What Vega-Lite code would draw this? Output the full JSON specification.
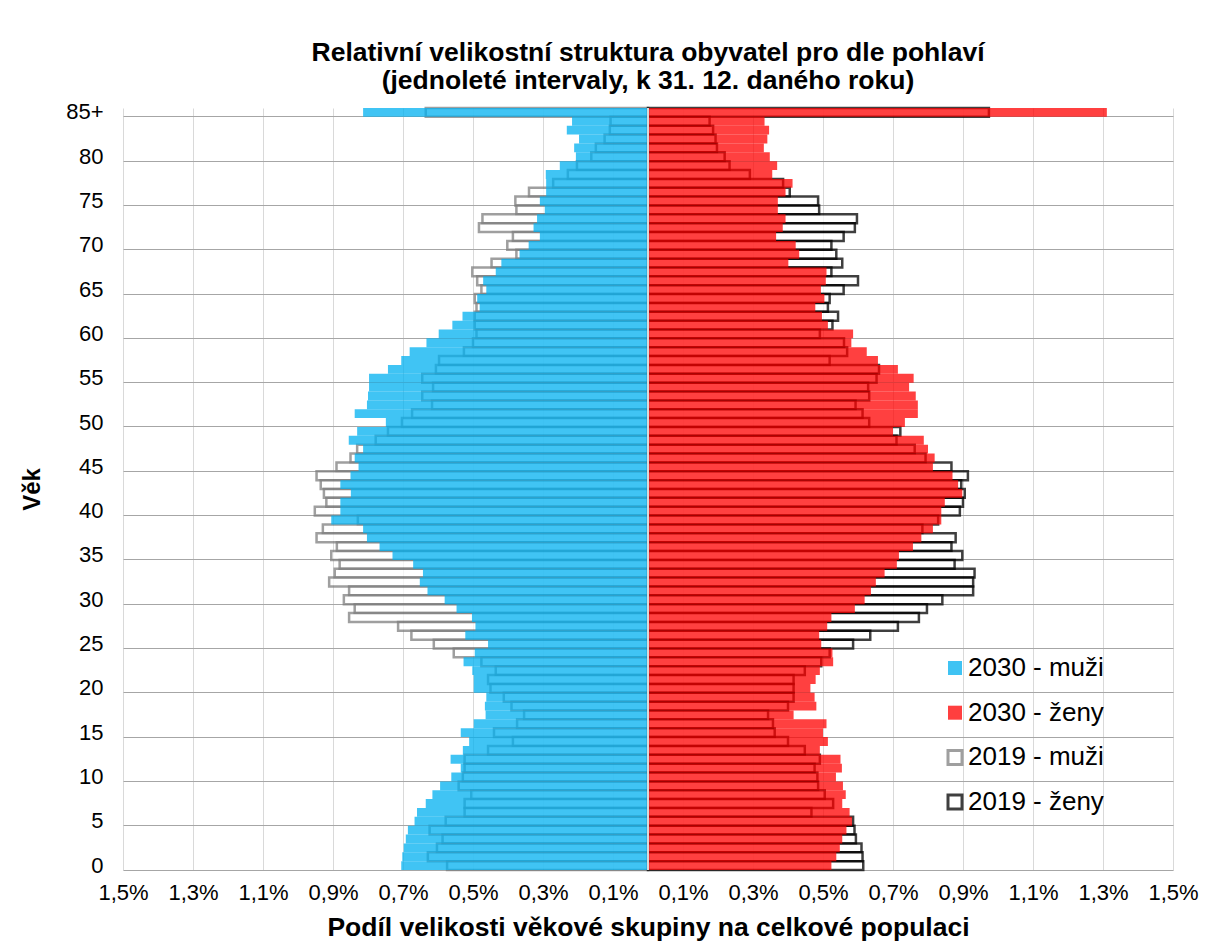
{
  "$schema": "https://vega.github.io/schema/vega-lite/v6.json",
  "width": 1050,
  "height": 762,
  "autosize": {"type": "none"},
  "padding": {"left": 123, "top": 108, "right": 35, "bottom": 74},
  "background": "white",
  "title": {
    "text": ["Relativní velikostní struktura obyvatel pro dle pohlaví", "(jednoleté intervaly, k 31. 12. daného roku)"],
    "fontSize": 26.5, "fontWeight": "bold", "font": "Liberation Sans", "color": "#000000",
    "anchor": "middle", "frame": "group", "offset": 6, "lineHeight": 28
  },
  "data": {"values": [
    {"age":85,"2030 - muži":-0.814,"2030 - ženy":1.311,"2019 - muži":-0.635,"2019 - ženy":0.974},
    {"age":84,"2030 - muži":-0.217,"2030 - ženy":0.333,"2019 - muži":-0.107,"2019 - ženy":0.176},
    {"age":83,"2030 - muži":-0.232,"2030 - ženy":0.346,"2019 - muži":-0.109,"2019 - ženy":0.186},
    {"age":82,"2030 - muži":-0.197,"2030 - ženy":0.341,"2019 - muži":-0.124,"2019 - ženy":0.193},
    {"age":81,"2030 - muži":-0.211,"2030 - ženy":0.331,"2019 - muži":-0.149,"2019 - ženy":0.197},
    {"age":80,"2030 - muži":-0.206,"2030 - ženy":0.348,"2019 - muži":-0.162,"2019 - ženy":0.219},
    {"age":79,"2030 - muži":-0.252,"2030 - ženy":0.369,"2019 - muži":-0.203,"2019 - ženy":0.233},
    {"age":78,"2030 - muži":-0.292,"2030 - ženy":0.355,"2019 - muži":-0.229,"2019 - ženy":0.291},
    {"age":77,"2030 - muži":-0.291,"2030 - ženy":0.413,"2019 - muži":-0.271,"2019 - ženy":0.386},
    {"age":76,"2030 - muži":-0.291,"2030 - ženy":0.393,"2019 - muži":-0.340,"2019 - ženy":0.405},
    {"age":75,"2030 - muži":-0.309,"2030 - ženy":0.371,"2019 - muži":-0.379,"2019 - ženy":0.486},
    {"age":74,"2030 - muži":-0.295,"2030 - ženy":0.371,"2019 - muži":-0.376,"2019 - ženy":0.489},
    {"age":73,"2030 - muži":-0.317,"2030 - ženy":0.393,"2019 - muži":-0.473,"2019 - ženy":0.597},
    {"age":72,"2030 - muži":-0.327,"2030 - ženy":0.385,"2019 - muži":-0.483,"2019 - ženy":0.591},
    {"age":71,"2030 - muži":-0.309,"2030 - ženy":0.366,"2019 - muži":-0.386,"2019 - ženy":0.559},
    {"age":70,"2030 - muži":-0.341,"2030 - ženy":0.422,"2019 - muži":-0.402,"2019 - ženy":0.524},
    {"age":69,"2030 - muži":-0.367,"2030 - ženy":0.432,"2019 - muži":-0.376,"2019 - ženy":0.538},
    {"age":68,"2030 - muži":-0.419,"2030 - ženy":0.401,"2019 - muži":-0.447,"2019 - ženy":0.555},
    {"age":67,"2030 - muži":-0.435,"2030 - ženy":0.510,"2019 - muži":-0.502,"2019 - ženy":0.524},
    {"age":66,"2030 - muži":-0.471,"2030 - ženy":0.508,"2019 - muži":-0.488,"2019 - ženy":0.600},
    {"age":65,"2030 - muži":-0.462,"2030 - ženy":0.494,"2019 - muži":-0.476,"2019 - ženy":0.559},
    {"age":64,"2030 - muži":-0.488,"2030 - ženy":0.504,"2019 - muži":-0.495,"2019 - ženy":0.519},
    {"age":63,"2030 - muži":-0.481,"2030 - ženy":0.478,"2019 - muži":-0.490,"2019 - ženy":0.514},
    {"age":62,"2030 - muži":-0.530,"2030 - ženy":0.497,"2019 - muži":-0.495,"2019 - ženy":0.543},
    {"age":61,"2030 - muži":-0.559,"2030 - ženy":0.514,"2019 - muži":-0.495,"2019 - ženy":0.527},
    {"age":60,"2030 - muži":-0.598,"2030 - ženy":0.586,"2019 - muži":-0.490,"2019 - ženy":0.491},
    {"age":59,"2030 - muži":-0.633,"2030 - ženy":0.581,"2019 - muži":-0.500,"2019 - ženy":0.560},
    {"age":58,"2030 - muži":-0.681,"2030 - ženy":0.625,"2019 - muži":-0.526,"2019 - ženy":0.569},
    {"age":57,"2030 - muži":-0.705,"2030 - ženy":0.657,"2019 - muži":-0.597,"2019 - ženy":0.519},
    {"age":56,"2030 - muži":-0.743,"2030 - ženy":0.714,"2019 - muži":-0.606,"2019 - ženy":0.660},
    {"age":55,"2030 - muži":-0.797,"2030 - ženy":0.759,"2019 - muži":-0.645,"2019 - ženy":0.653},
    {"age":54,"2030 - muži":-0.797,"2030 - ženy":0.746,"2019 - muži":-0.614,"2019 - ženy":0.629},
    {"age":53,"2030 - muži":-0.800,"2030 - ženy":0.765,"2019 - muži":-0.645,"2019 - ženy":0.632},
    {"age":52,"2030 - muži":-0.803,"2030 - ženy":0.771,"2019 - muži":-0.617,"2019 - ženy":0.593},
    {"age":51,"2030 - muži":-0.838,"2030 - ženy":0.771,"2019 - muži":-0.674,"2019 - ženy":0.613},
    {"age":50,"2030 - muži":-0.749,"2030 - ženy":0.734,"2019 - muži":-0.703,"2019 - ženy":0.632},
    {"age":49,"2030 - muži":-0.831,"2030 - ženy":0.700,"2019 - muži":-0.743,"2019 - ženy":0.721},
    {"age":48,"2030 - muži":-0.855,"2030 - ženy":0.788,"2019 - muži":-0.778,"2019 - ženy":0.710},
    {"age":47,"2030 - muži":-0.814,"2030 - ženy":0.800,"2019 - muži":-0.831,"2019 - ženy":0.762},
    {"age":46,"2030 - muži":-0.838,"2030 - ženy":0.819,"2019 - muži":-0.850,"2019 - ženy":0.793},
    {"age":45,"2030 - muži":-0.827,"2030 - ženy":0.814,"2019 - muži":-0.890,"2019 - ženy":0.867},
    {"age":44,"2030 - muži":-0.850,"2030 - ženy":0.870,"2019 - muži":-0.947,"2019 - ženy":0.914},
    {"age":43,"2030 - muži":-0.879,"2030 - ženy":0.886,"2019 - muži":-0.935,"2019 - ženy":0.895},
    {"age":42,"2030 - muži":-0.849,"2030 - ženy":0.898,"2019 - muži":-0.926,"2019 - ženy":0.905},
    {"age":41,"2030 - muži":-0.879,"2030 - ženy":0.848,"2019 - muži":-0.919,"2019 - ženy":0.900},
    {"age":40,"2030 - muži":-0.879,"2030 - ženy":0.838,"2019 - muži":-0.952,"2019 - ženy":0.891},
    {"age":39,"2030 - muži":-0.905,"2030 - ženy":0.838,"2019 - muži":-0.829,"2019 - ženy":0.829},
    {"age":38,"2030 - muži":-0.814,"2030 - ženy":0.814,"2019 - muži":-0.929,"2019 - ženy":0.784},
    {"age":37,"2030 - muži":-0.803,"2030 - ženy":0.781,"2019 - muži":-0.947,"2019 - ženy":0.879},
    {"age":36,"2030 - muži":-0.767,"2030 - ženy":0.757,"2019 - muži":-0.889,"2019 - ženy":0.867},
    {"age":35,"2030 - muži":-0.730,"2030 - ženy":0.717,"2019 - muži":-0.905,"2019 - ženy":0.898},
    {"age":34,"2030 - muži":-0.671,"2030 - ženy":0.711,"2019 - muži":-0.881,"2019 - ženy":0.876},
    {"age":33,"2030 - muži":-0.643,"2030 - ženy":0.676,"2019 - muži":-0.895,"2019 - ženy":0.933},
    {"age":32,"2030 - muži":-0.652,"2030 - ženy":0.651,"2019 - muži":-0.911,"2019 - ženy":0.929},
    {"age":31,"2030 - muži":-0.630,"2030 - ženy":0.637,"2019 - muži":-0.854,"2019 - ženy":0.929},
    {"age":30,"2030 - muži":-0.581,"2030 - ženy":0.619,"2019 - muži":-0.869,"2019 - ženy":0.841},
    {"age":29,"2030 - muži":-0.547,"2030 - ženy":0.591,"2019 - muži":-0.838,"2019 - ženy":0.797},
    {"age":28,"2030 - muži":-0.503,"2030 - ženy":0.524,"2019 - muži":-0.854,"2019 - ženy":0.774},
    {"age":27,"2030 - muži":-0.493,"2030 - ženy":0.512,"2019 - muži":-0.714,"2019 - ženy":0.714},
    {"age":26,"2030 - muži":-0.522,"2030 - ženy":0.489,"2019 - muži":-0.676,"2019 - ženy":0.635},
    {"age":25,"2030 - muži":-0.457,"2030 - ženy":0.495,"2019 - muži":-0.612,"2019 - ženy":0.586},
    {"age":24,"2030 - muži":-0.495,"2030 - ženy":0.527,"2019 - muži":-0.555,"2019 - ženy":0.519},
    {"age":23,"2030 - muži":-0.527,"2030 - ženy":0.529,"2019 - muži":-0.476,"2019 - ženy":0.495},
    {"age":22,"2030 - muži":-0.502,"2030 - ženy":0.491,"2019 - muži":-0.435,"2019 - ženy":0.448},
    {"age":21,"2030 - muži":-0.498,"2030 - ženy":0.479,"2019 - muži":-0.457,"2019 - ženy":0.416},
    {"age":20,"2030 - muži":-0.498,"2030 - ženy":0.464,"2019 - muži":-0.450,"2019 - ženy":0.416},
    {"age":19,"2030 - muži":-0.462,"2030 - ženy":0.476,"2019 - muži":-0.412,"2019 - ženy":0.416},
    {"age":18,"2030 - muži":-0.466,"2030 - ženy":0.481,"2019 - muži":-0.390,"2019 - ženy":0.400},
    {"age":17,"2030 - muži":-0.464,"2030 - ženy":0.416,"2019 - muži":-0.354,"2019 - ženy":0.343},
    {"age":16,"2030 - muži":-0.498,"2030 - ženy":0.510,"2019 - muži":-0.374,"2019 - ženy":0.357},
    {"age":15,"2030 - muži":-0.535,"2030 - ženy":0.500,"2019 - muži":-0.440,"2019 - ženy":0.362},
    {"age":14,"2030 - muži":-0.511,"2030 - ženy":0.514,"2019 - muži":-0.386,"2019 - ženy":0.400},
    {"age":13,"2030 - muži":-0.529,"2030 - ženy":0.491,"2019 - muži":-0.457,"2019 - ženy":0.448},
    {"age":12,"2030 - muži":-0.564,"2030 - ženy":0.550,"2019 - muži":-0.524,"2019 - ženy":0.491},
    {"age":11,"2030 - muži":-0.535,"2030 - ženy":0.554,"2019 - muži":-0.524,"2019 - ženy":0.476},
    {"age":10,"2030 - muži":-0.562,"2030 - ženy":0.537,"2019 - muži":-0.529,"2019 - ženy":0.484},
    {"age":9,"2030 - muži":-0.594,"2030 - ženy":0.557,"2019 - muži":-0.541,"2019 - ženy":0.486},
    {"age":8,"2030 - muži":-0.616,"2030 - ženy":0.565,"2019 - muži":-0.505,"2019 - ženy":0.505},
    {"age":7,"2030 - muži":-0.635,"2030 - ženy":0.555,"2019 - muži":-0.524,"2019 - ženy":0.529},
    {"age":6,"2030 - muži":-0.660,"2030 - ženy":0.576,"2019 - muži":-0.524,"2019 - ženy":0.467},
    {"age":5,"2030 - muži":-0.667,"2030 - ženy":0.583,"2019 - muži":-0.578,"2019 - ženy":0.586},
    {"age":4,"2030 - muži":-0.686,"2030 - ženy":0.567,"2019 - muži":-0.624,"2019 - ženy":0.590},
    {"age":3,"2030 - muži":-0.692,"2030 - ženy":0.555,"2019 - muži":-0.587,"2019 - ženy":0.594},
    {"age":2,"2030 - muži":-0.698,"2030 - ženy":0.548,"2019 - muži":-0.603,"2019 - ženy":0.610},
    {"age":1,"2030 - muži":-0.702,"2030 - ženy":0.538,"2019 - muži":-0.629,"2019 - ženy":0.613},
    {"age":0,"2030 - muži":-0.705,"2030 - ženy":0.524,"2019 - muži":-0.574,"2019 - ženy":0.615}
  ]},
  "transform": [
    {"fold": ["2030 - muži", "2030 - ženy", "2019 - muži", "2019 - ženy"], "as": ["series", "value"]}
  ],
  "encoding": {
    "y": {
      "field": "age", "type": "ordinal", "sort": "descending",
      "scale": {"paddingInner": 0, "paddingOuter": 0},
      "axis": {
        "values": [0,5,10,15,20,25,30,35,40,45,50,55,60,65,70,75,80,85],
        "bandPosition": 1,
        "labelExpr": "datum.value == 85 ? '85+' : datum.label",
        "ticks": false, "domain": false,
        "grid": true, "gridColor": "#A6A6A6", "gridWidth": 1,
        "labelFontSize": 22, "labelColor": "#000000", "labelPadding": 20,
        "title": "Věk", "titleFontSize": 24, "titleFontWeight": "bold", "titleColor": "#000000", "titlePadding": 21
      }
    },
    "x": {
      "field": "value", "type": "quantitative",
      "scale": {"domain": [-1.5, 1.5]},
      "axis": {
        "values": [-1.5,-1.3,-1.1,-0.9,-0.7,-0.5,-0.3,-0.1,0.1,0.3,0.5,0.7,0.9,1.1,1.3,1.5],
        "labelExpr": "replace(format(abs(datum.value), '.1f'), '.', ',') + '%'",
        "labelFlush": false, "labelOverlap": false,
        "ticks": false, "domain": false,
        "grid": true, "gridColor": "#D9D9D9", "gridWidth": 1,
        "labelFontSize": 22, "labelColor": "#000000", "labelPadding": 12,
        "title": "Podíl velikosti věkové skupiny na celkové populaci",
        "titleFontSize": 26.5, "titleFontWeight": "bold", "titleColor": "#000000", "titlePadding": 11
      }
    },
    "fill": {
      "field": "series", "type": "nominal", "title": null,
      "scale": {"domain": ["2030 - muži", "2030 - ženy", "2019 - muži", "2019 - ženy"], "range": ["#00B0F0", "#FF0000", "#FFFFFF", "#FFFFFF"]}
    },
    "stroke": {
      "field": "series", "type": "nominal", "title": null,
      "scale": {"domain": ["2030 - muži", "2030 - ženy", "2019 - muži", "2019 - ženy"], "range": ["transparent", "transparent", "#7F7F7F", "#000000"]}
    },
    "opacity": {
      "field": "series", "type": "nominal", "title": null,
      "scale": {"domain": ["2030 - muži", "2030 - ženy", "2019 - muži", "2019 - ženy"], "range": [0.75, 0.75, 1, 1]}
    }
  },
  "layer": [
    {
      "transform": [{"filter": "indexof(datum.series, '2019') === 0"}],
      "mark": {"type": "bar", "strokeWidth": 2.5}
    },
    {
      "transform": [{"filter": "indexof(datum.series, '2030') === 0"}],
      "mark": {"type": "bar", "strokeWidth": 0}
    },
    {
      "mark": {"type": "rule", "color": "#D9D9D9", "strokeWidth": 2},
      "encoding": {"x": {"datum": 0}, "y": null, "fill": null, "stroke": null, "opacity": null}
    }
  ],
  "config": {
    "font": "Liberation Sans",
    "view": {"stroke": null},
    "legend": {
      "orient": "none", "legendX": 819, "legendY": 547, "padding": 0,
      "symbolType": "square", "symbolSize": 196, "symbolStrokeWidth": 3,
      "labelFontSize": 26, "labelColor": "#000000", "labelOffset": 0,
      "rowPadding": 18.7, "labelLimit": 300
    }
  }
}
